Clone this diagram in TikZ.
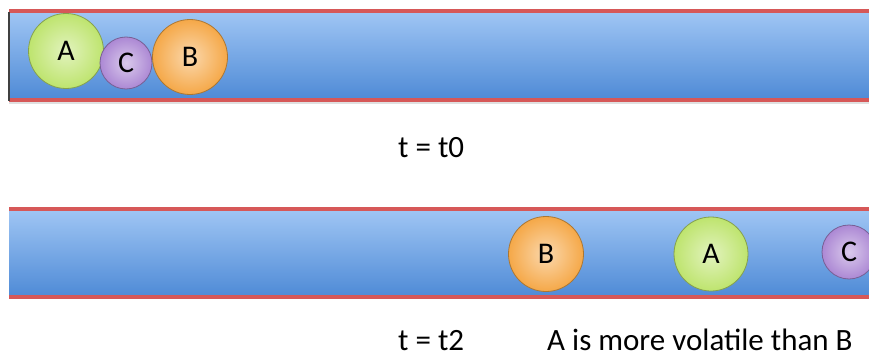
\documentclass[tikz,border=0pt]{standalone}
\usepackage{fontspec}
\setmainfont{Carlito}
\definecolor{tubetop}{RGB}{160,198,244}
\definecolor{tubemid}{RGB}{132,182,238}
\definecolor{tubebot}{RGB}{78,138,214}
\definecolor{rim}{RGB}{214,88,88}
\definecolor{ballA}{RGB}{190,228,110}
\definecolor{ballB}{RGB}{245,168,72}
\definecolor{ballC}{RGB}{172,136,212}
\begin{document}
\begin{tikzpicture}[x=1pt, y=-1pt,
	every node/.style={font=\fontsize{31}{36}\selectfont},
	ball/.style={circle, inner sep=0pt, draw=#1!70!black, line width=0.8pt,
		inner color=#1!45!white, outer color=#1,
		font=\fontsize{30}{34}\selectfont},
	label/.style={anchor=base west, inner sep=0pt}]
	\useasboundingbox (0,0) rectangle (869,361);
	% tube at t0
	\fill[black!12] (9,100) rectangle (869,104);
	\shade[top color=tubetop, middle color=tubemid, bottom color=tubebot] (9,11) rectangle (869,100);
	\draw[rim, line width=3.5pt] (9,11) -- (869,11);
	\draw[rim, line width=3.5pt] (9,100) -- (869,100);
	\draw[black!75, line width=1.2pt] (9,12) -- (9,101);
	\node[ball=ballA, minimum size=75pt] (a0) at (66,51) {A};
	\node[ball=ballC, minimum size=52pt] (c0) at (126,63) {C};
	\node[ball=ballB, minimum size=75pt] (b0) at (190,57) {B};
	\node[label] (t0) at (398,157) {t = t0};
	% tube at t2
	\shade[top color=tubetop, middle color=tubemid, bottom color=tubebot] (9,209) rectangle (869,297);
	\draw[rim, line width=3.5pt] (9,209) -- (869,209);
	\draw[rim, line width=3.5pt] (9,297) -- (869,297);
	\node[ball=ballB, minimum size=75pt] (b2) at (546,254) {B};
	\node[ball=ballA, minimum size=74pt] (a2) at (711,254) {A};
	\node[ball=ballC, minimum size=54pt] (c2) at (849,252) {C};
	\node[label] (t2) at (398,350) {t = t2};
	\node[label] (note) at (547,350) {A is more volatile than B};
\end{tikzpicture}
\end{document}
